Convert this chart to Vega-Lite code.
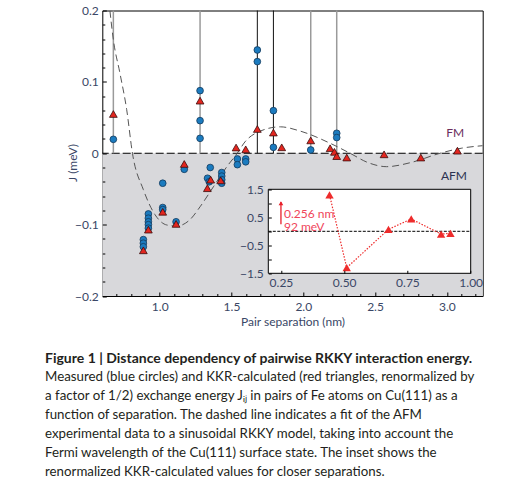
{
  "$schema": "https://vega.github.io/schema/vega-lite/v6.json",
  "autosize": {"type": "none"},
  "width": 380.4,
  "height": 285.5,
  "padding": {"left": 102.3, "top": 10.5, "right": 28.3, "bottom": 188},
  "background": "white",
  "config": {
    "font": "Lato",
    "view": {"stroke": "black", "strokeWidth": 1},
    "axis": {"labelColor": "#3a4766", "titleColor": "#3a4766", "labelFontSize": 12, "titleFontSize": 12, "titleFontWeight": "normal", "domain": false, "grid": false, "tickColor": "black"}
  },
  "title": {
    "text": "Figure 1 | Distance dependency of pairwise RKKY interaction energy.",
    "subtitle": [
      "Measured (blue circles) and KKR-calculated (red triangles, renormalized by",
      "a factor of 1/2) exchange energy Jᵢⱼ in pairs of Fe atoms on Cu(111) as a",
      "function of separation. The dashed line indicates a fit of the AFM",
      "experimental data to a sinusoidal RKKY model, taking into account the",
      "Fermi wavelength of the Cu(111) surface state. The inset shows the",
      "renormalized KKR-calculated values for closer separations."
    ],
    "orient": "bottom",
    "anchor": "start",
    "frame": "group",
    "dx": -57.3,
    "offset": 25,
    "font": "Lato",
    "fontSize": 14,
    "fontWeight": "bold",
    "color": "#231f20",
    "subtitleFont": "Lato",
    "subtitleFontSize": 13.3,
    "subtitleColor": "#231f20",
    "subtitleLineHeight": 19,
    "subtitlePadding": 4
  },
  "resolve": {"scale": {"x": "independent", "y": "independent"}},
  "layer": [
    {
      "resolve": {"axis": {"x": "independent", "y": "independent"}},
      "layer": [
        {
          "data": {"values": [{}]},
          "mark": {"type": "rect", "color": "#d8d8db"},
          "encoding": {
            "x": {"datum": 0.6, "type": "quantitative", "scale": {"domain": [0.6, 3.25], "nice": false, "zero": false},
              "axis": {
                "orient": "bottom",
                "title": "Pair separation (nm)",
                "values": [1.0, 1.5, 2.0, 2.5, 3.0],
                "format": ".1f",
                "tickSize": -4,
                "labelPadding": 9,
                "titlePadding": 4,
                "labelFlush": false,
                "labelOverlap": false,
                "labelBound": false,
                "zindex": 2
              }
            },
            "x2": {"datum": 3.25},
            "y": {"datum": 0, "type": "quantitative", "scale": {"domain": [-0.2, 0.2], "nice": false, "zero": false},
              "axis": {
                "orient": "left",
                "title": "J (meV)",
                "values": [-0.2, -0.1, 0, 0.1, 0.2],
                "labelExpr": "abs(datum.value) < 0.001 ? '0' : replace(format(datum.value, '.1f'), '-', '\u2212')",
                "tickSize": -4,
                "labelPadding": 8,
                "labelFlush": false,
                "labelOverlap": false,
                "labelBound": false,
                "zindex": 2,
                "titleX": -23,
                "titleY": 152
              }
            },
            "y2": {"datum": -0.2}
          }
        },
        {
          "data": {"values": [{}]},
          "mark": {"type": "rule", "color": "black", "strokeWidth": 1, "strokeDash": [8, 3]},
          "encoding": {"y": {"datum": 0, "type": "quantitative", "axis": null}}
        },
        {
          "data": {"values": [{"sep": 0.677}, {"sep": 1.281}, {"sep": 2.052}, {"sep": 2.233}]},
          "mark": {"type": "rule", "color": "#9a9a9a", "strokeWidth": 1.5},
          "encoding": {
            "x": {"field": "sep", "type": "quantitative",
              "axis": {"orient": "bottom", "title": null, "labels": false, "tickSize": -2.5, "zindex": 2,
                "values": [0.7,0.8,0.9,1.1,1.2,1.3,1.4,1.6,1.7,1.8,1.9,2.1,2.2,2.3,2.4,2.6,2.7,2.8,2.9,3.1,3.2]}},
            "y": {"datum": 0, "type": "quantitative",
              "axis": {"orient": "left", "title": null, "labels": false, "tickSize": -2.5, "zindex": 2,
                "values": [-0.18,-0.16,-0.14,-0.12,-0.08,-0.06,-0.04,-0.02,0.02,0.04,0.06,0.08,0.12,0.14,0.16,0.18]}},
            "y2": {"datum": 0.2}
          }
        },
        {
          "data": {"values": [{"sep": 1.68}, {"sep": 1.792}]},
          "mark": {"type": "rule", "color": "#111111", "strokeWidth": 1},
          "encoding": {"x": {"field": "sep", "type": "quantitative", "axis": null}, "y": {"datum": 0, "type": "quantitative", "axis": null}, "y2": {"datum": 0.2}}
        },
        {
          "data": {"values": [
            {"sep": 0.645, "J": 0.215}, {"sep": 0.677, "J": 0.159}, {"sep": 0.723, "J": 0.112}, {"sep": 0.77, "J": 0.061},
            {"sep": 0.81, "J": 0.0}, {"sep": 0.886, "J": -0.051}, {"sep": 0.967, "J": -0.086}, {"sep": 1.049, "J": -0.1005},
            {"sep": 1.118, "J": -0.102}, {"sep": 1.211, "J": -0.093}, {"sep": 1.281, "J": -0.075}, {"sep": 1.374, "J": -0.047},
            {"sep": 1.467, "J": -0.019}, {"sep": 1.54, "J": 0.0}, {"sep": 1.594, "J": 0.016}, {"sep": 1.7, "J": 0.031},
            {"sep": 1.84, "J": 0.037}, {"sep": 1.98, "J": 0.031}, {"sep": 2.187, "J": 0.014}, {"sep": 2.326, "J": 0.0},
            {"sep": 2.45, "J": -0.013}, {"sep": 2.58, "J": -0.0188}, {"sep": 2.75, "J": -0.013}, {"sep": 2.953, "J": 0.0},
            {"sep": 3.1, "J": 0.007}, {"sep": 3.25, "J": 0.0106}
          ]},
          "mark": {"type": "line", "color": "#555555", "strokeWidth": 1, "strokeDash": [7, 4], "interpolate": "monotone", "clip": true},
          "encoding": {"x": {"field": "sep", "type": "quantitative", "axis": null}, "y": {"field": "J", "type": "quantitative", "axis": null}}
        },
        {
          "data": {"values": [
            {"sep": 0.677, "J": 0.0195},
            {"sep": 0.886, "J": -0.121}, {"sep": 0.886, "J": -0.126}, {"sep": 0.886, "J": -0.131},
            {"sep": 0.921, "J": -0.085}, {"sep": 0.921, "J": -0.091}, {"sep": 0.921, "J": -0.096}, {"sep": 0.921, "J": -0.1}, {"sep": 0.921, "J": -0.105},
            {"sep": 1.021, "J": -0.042}, {"sep": 1.021, "J": -0.076}, {"sep": 1.021, "J": -0.079},
            {"sep": 1.114, "J": -0.096},
            {"sep": 1.171, "J": -0.0225},
            {"sep": 1.281, "J": 0.0877}, {"sep": 1.281, "J": 0.0457}, {"sep": 1.281, "J": 0.0209},
            {"sep": 1.352, "J": -0.02}, {"sep": 1.333, "J": -0.035}, {"sep": 1.345, "J": -0.04},
            {"sep": 1.432, "J": -0.027}, {"sep": 1.432, "J": -0.032}, {"sep": 1.432, "J": -0.037}, {"sep": 1.432, "J": -0.042},
            {"sep": 1.541, "J": -0.008}, {"sep": 1.541, "J": -0.016},
            {"sep": 1.599, "J": -0.008}, {"sep": 1.599, "J": -0.012},
            {"sep": 1.68, "J": 0.1447}, {"sep": 1.68, "J": 0.1284},
            {"sep": 1.792, "J": 0.0597}, {"sep": 1.792, "J": 0.0083},
            {"sep": 2.052, "J": 0.0046},
            {"sep": 2.233, "J": 0.028}, {"sep": 2.233, "J": 0.022}
          ]},
          "mark": {"type": "point", "shape": "circle", "filled": true, "fill": "#1b7bbf", "stroke": "#143a5c", "strokeWidth": 0.8, "opacity": 1, "size": 45},
          "encoding": {"x": {"field": "sep", "type": "quantitative", "axis": null}, "y": {"field": "J", "type": "quantitative", "axis": null}}
        },
        {
          "data": {"values": [
            {"sep": 0.677, "J": 0.055}, {"sep": 0.886, "J": -0.136}, {"sep": 0.921, "J": -0.107}, {"sep": 1.021, "J": -0.082},
            {"sep": 1.114, "J": -0.099}, {"sep": 1.171, "J": -0.015}, {"sep": 1.281, "J": 0.0737}, {"sep": 1.332, "J": -0.049},
            {"sep": 1.355, "J": -0.037}, {"sep": 1.425, "J": -0.038}, {"sep": 1.532, "J": 0.008}, {"sep": 1.599, "J": 0.0055},
            {"sep": 1.68, "J": 0.034}, {"sep": 1.792, "J": 0.029}, {"sep": 1.85, "J": 0.0083}, {"sep": 2.052, "J": 0.018},
            {"sep": 2.187, "J": 0.007}, {"sep": 2.217, "J": 0.002}, {"sep": 2.233, "J": -0.004}, {"sep": 2.303, "J": -0.006},
            {"sep": 2.563, "J": -0.0015}, {"sep": 2.819, "J": -0.006}, {"sep": 3.074, "J": 0.0036}
          ]},
          "mark": {"type": "point", "shape": "triangle-up", "filled": true, "fill": "#e3261f", "stroke": "#3a0d0d", "strokeWidth": 0.8, "opacity": 1, "size": 60},
          "encoding": {"x": {"field": "sep", "type": "quantitative", "axis": null}, "y": {"field": "J", "type": "quantitative", "axis": null}}
        },
        {
          "data": {"values": [{"label": "FM"}]},
          "mark": {"type": "text", "color": "#6b2d5c", "fontSize": 12, "align": "center", "baseline": "middle"},
          "encoding": {"x": {"datum": 3.058, "type": "quantitative", "axis": null}, "y": {"datum": 0.028, "type": "quantitative", "axis": null}, "text": {"field": "label"}}
        },
        {
          "data": {"values": [{"label": "AFM"}]},
          "mark": {"type": "text", "color": "#2b3150", "fontSize": 12, "align": "center", "baseline": "middle"},
          "encoding": {"x": {"datum": 3.05, "type": "quantitative", "axis": null}, "y": {"datum": -0.032, "type": "quantitative", "axis": null}, "text": {"field": "label"}}
        }
      ]
    },
    {
      "layer": [
        {
          "data": {"values": [{}]},
          "mark": {"type": "rect", "fill": "white", "stroke": "black", "strokeWidth": 1},
          "encoding": {
            "x": {"datum": 0.2, "type": "quantitative", "scale": {"domain": [0.2, 1.0], "range": [166, 368.4], "nice": false, "zero": false},
              "axis": {"orient": "bottom", "offset": -22.7, "title": null, "values": [0.25, 0.5, 0.75, 1.0], "format": ".2f", "tickSize": -3, "labelPadding": 7, "labelFlush": false, "labelOverlap": false, "labelBound": false, "zindex": 2}
            },
            "x2": {"datum": 1.0},
            "y": {"datum": -1.5, "type": "quantitative", "scale": {"domain": [-1.5, 1.5], "range": [262.8, 178.8], "nice": false, "zero": false},
              "axis": {"orient": "left", "offset": -166, "title": null, "values": [-1.5, -1, -0.5, 0, 0.5, 1, 1.5],
                "labelExpr": "abs(datum.value*2 - round(datum.value*2)) < 0.001 && abs(datum.value - round(datum.value)) > 0.1 ? replace(format(datum.value, '.1f'), '-', '\u2212') : ''",
                "tickSize": -3, "labelPadding": 8, "labelFlush": false, "labelOverlap": false, "labelBound": false, "zindex": 2}
            },
            "y2": {"datum": 1.5}
          }
        },
        {
          "data": {"values": [{}]},
          "mark": {"type": "rule", "color": "black", "strokeWidth": 1, "strokeDash": [3, 1.5]},
          "encoding": {"x": {"datum": 0.2, "type": "quantitative"}, "x2": {"datum": 1.0}, "y": {"datum": 0, "type": "quantitative"}}
        },
        {
          "data": {"values": [{"sep": 0.25, "J": 0.25, "J2": 1.05}]},
          "mark": {"type": "rule", "color": "#e8202a", "strokeWidth": 1.3},
          "encoding": {"x": {"field": "sep", "type": "quantitative"}, "y": {"field": "J", "type": "quantitative"}, "y2": {"field": "J2"}}
        },
        {
          "data": {"values": [{"sep": 0.25, "J": 1.0}]},
          "mark": {"type": "point", "shape": "triangle-up", "filled": true, "color": "#e8202a", "opacity": 1, "size": 22},
          "encoding": {"x": {"field": "sep", "type": "quantitative"}, "y": {"field": "J", "type": "quantitative"}}
        },
        {
          "data": {"values": [
            {"sep": 0.442, "J": 1.3}, {"sep": 0.51, "J": -1.3}, {"sep": 0.675, "J": 0.07},
            {"sep": 0.765, "J": 0.44}, {"sep": 0.883, "J": -0.1}, {"sep": 0.92, "J": -0.07}
          ]},
          "layer": [
            {
              "mark": {"type": "line", "color": "#ee2b2b", "strokeWidth": 1.2, "strokeDash": [1.5, 1.5]},
              "encoding": {"x": {"field": "sep", "type": "quantitative"}, "y": {"field": "J", "type": "quantitative"}}
            },
            {
              "mark": {"type": "point", "shape": "triangle-up", "filled": true, "color": "#ee2b2b", "opacity": 1, "size": 70},
              "encoding": {"x": {"field": "sep", "type": "quantitative"}, "y": {"field": "J", "type": "quantitative"}}
            }
          ]
        },
        {
          "data": {"values": [{"label": "0.256 nm", "sep": 0.262, "J": 0.62}, {"label": "92 meV", "sep": 0.262, "J": 0.16}]},
          "mark": {"type": "text", "color": "#f0455a", "fontSize": 12, "align": "left", "baseline": "middle"},
          "encoding": {"x": {"field": "sep", "type": "quantitative"}, "y": {"field": "J", "type": "quantitative"}, "text": {"field": "label"}}
        }
      ]
    }
  ]
}
